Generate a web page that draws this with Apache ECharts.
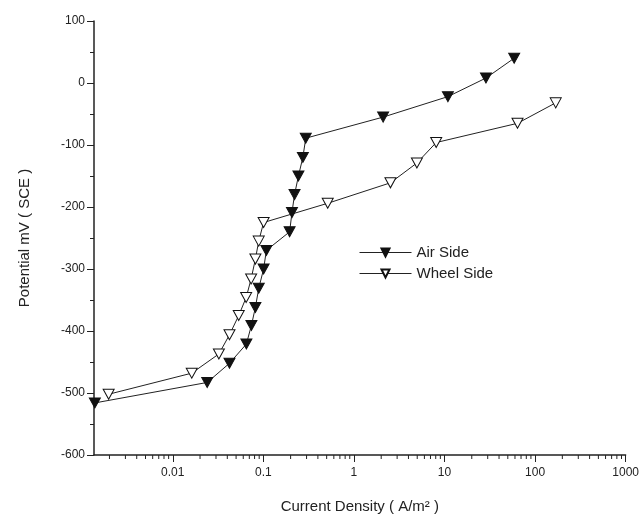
<!DOCTYPE html>
<html>
<head>
<meta charset="utf-8">
<title>Potentiodynamic polarization</title>
<script src="https://cdn.jsdelivr.net/npm/echarts@6/dist/echarts.min.js"></script>
<style>
  html, body { margin: 0; padding: 0; background: #fff; }
  #chart { width: 642px; height: 520px; }
</style>
</head>
<body>
<div id="chart"></div>
<script>
// current density (A/m2) and potential (mV vs SCE)
var airX = [0.00138, 0.024, 0.0423, 0.065, 0.0738, 0.0817, 0.089, 0.1007, 0.108, 0.195, 0.207, 0.221, 0.244, 0.273, 0.294, 2.1, 10.9, 28.7, 58.8];
var airY = [-516, -483, -452, -421, -391, -362, -331, -300, -270, -240, -209, -180, -150, -120, -89, -55, -22, 8, 40];

var wheelX = [0.00196, 0.0162, 0.0323, 0.0423, 0.0535, 0.0646, 0.0733, 0.0817, 0.0889, 0.1007, 0.514, 2.53, 4.96, 8.1, 64, 169];
var wheelY = [-502, -468, -437, -406, -375, -346, -316, -284, -255, -225, -194, -161, -129, -96, -65, -32];

var xTickLabels = ['0.01', '0.1', '1', '10', '100', '1000'];
var yTickLabels = ['-600', '-500', '-400', '-300', '-200', '-100', '0', '100'];

var xMin = 0.00135, xMax = 1000, yMin = -600, yMax = 100;

// log minor ticks 2..9 in every decade inside the axis range
var minorTicks = [];
for (var d = -3; d < 3; d++) {
	for (var m = 2; m <= 9; m++) {
		var v = m * Math.pow(10, d);
		if (v > xMin && v < xMax) minorTicks.push([v, yMin]);
	}
}

function pairs(xs, ys) {
	return xs.map(function (x, i) { return [x, ys[i]]; });
}

var font = 'Liberation Sans, Arial, sans-serif';
var ink = '#222';

var chart = echarts.init(document.getElementById('chart'));

chart.setOption({
	animation: false,
	backgroundColor: '#fff',
	grid: { left: 94, right: 10, top: 21, bottom: 65 },
	legend: {
		left: 354,
		top: 240,
		orient: 'vertical',
		itemWidth: 52,
		itemHeight: 10,
		itemGap: 6,
		lineStyle: { width: 1 },
		textStyle: { fontFamily: font, fontSize: 15, color: ink },
		data: ['Air Side', 'Wheel Side']
	},
	xAxis: {
		type: 'log',
		min: xMin,
		max: xMax,
		logBase: 10,
		name: 'Current Density ( A/m² )',
		nameLocation: 'middle',
		nameGap: 44,
		nameTextStyle: { fontFamily: font, fontSize: 15, color: ink },
		splitLine: { show: false },
		axisLine: { onZero: false, lineStyle: { color: ink, width: 1.5 } },
		axisTick: { length: 7, lineStyle: { color: ink } },
		axisLabel: {
			fontFamily: font,
			fontSize: 12,
			color: ink,
			margin: 12,
			showMinLabel: false,
			formatter: function (v) {
				var p = Math.round(Math.log10(v));
				if (Math.abs(Math.log10(v) - p) > 1e-6) return '';
				var i = p + 2;
				return xTickLabels[i] || '';
			}
		}
	},
	yAxis: {
		type: 'value',
		min: yMin,
		max: yMax,
		interval: 100,
		name: 'Potential mV ( SCE )',
		nameLocation: 'middle',
		nameGap: 62,
		nameTextStyle: { fontFamily: font, fontSize: 15, color: ink },
		splitLine: { show: false },
		axisLine: { show: true, onZero: false, lineStyle: { color: ink, width: 1.5 } },
		axisTick: { show: true, length: 7, lineStyle: { color: ink } },
		minorTick: { show: true, splitNumber: 2, length: 4, lineStyle: { color: ink } },
		axisLabel: {
			fontFamily: font,
			fontSize: 12,
			color: ink,
			margin: 9,
			formatter: function (v) {
				return yTickLabels[Math.round((v - yMin) / 100)];
			}
		}
	},
	series: [
		{
			name: 'Air Side',
			type: 'line',
			data: pairs(airX, airY),
			symbol: 'triangle',
			symbolRotate: 180,
			symbolSize: [11, 10],
			showAllSymbol: true,
			lineStyle: { color: ink, width: 1 },
			itemStyle: { color: '#111', borderColor: '#111', borderWidth: 1 }
		},
		{
			name: 'Wheel Side',
			type: 'line',
			data: pairs(wheelX, wheelY),
			symbol: 'triangle',
			symbolRotate: 180,
			symbolSize: [11, 10],
			showAllSymbol: true,
			lineStyle: { color: ink, width: 1 },
			itemStyle: { color: '#fff', borderColor: '#111', borderWidth: 1 }
		},
		{
			// log minor ticks on the x axis
			type: 'custom',
			silent: true,
			clip: false,
			legendHoverLink: false,
			data: minorTicks,
			renderItem: function (params, api) {
				var p = api.coord([api.value(0), api.value(1)]);
				return {
					type: 'line',
					shape: { x1: p[0], y1: p[1], x2: p[0], y2: p[1] + 4 },
					style: { stroke: ink, lineWidth: 1 }
				};
			}
		}
	]
});
</script>
</body>
</html>
